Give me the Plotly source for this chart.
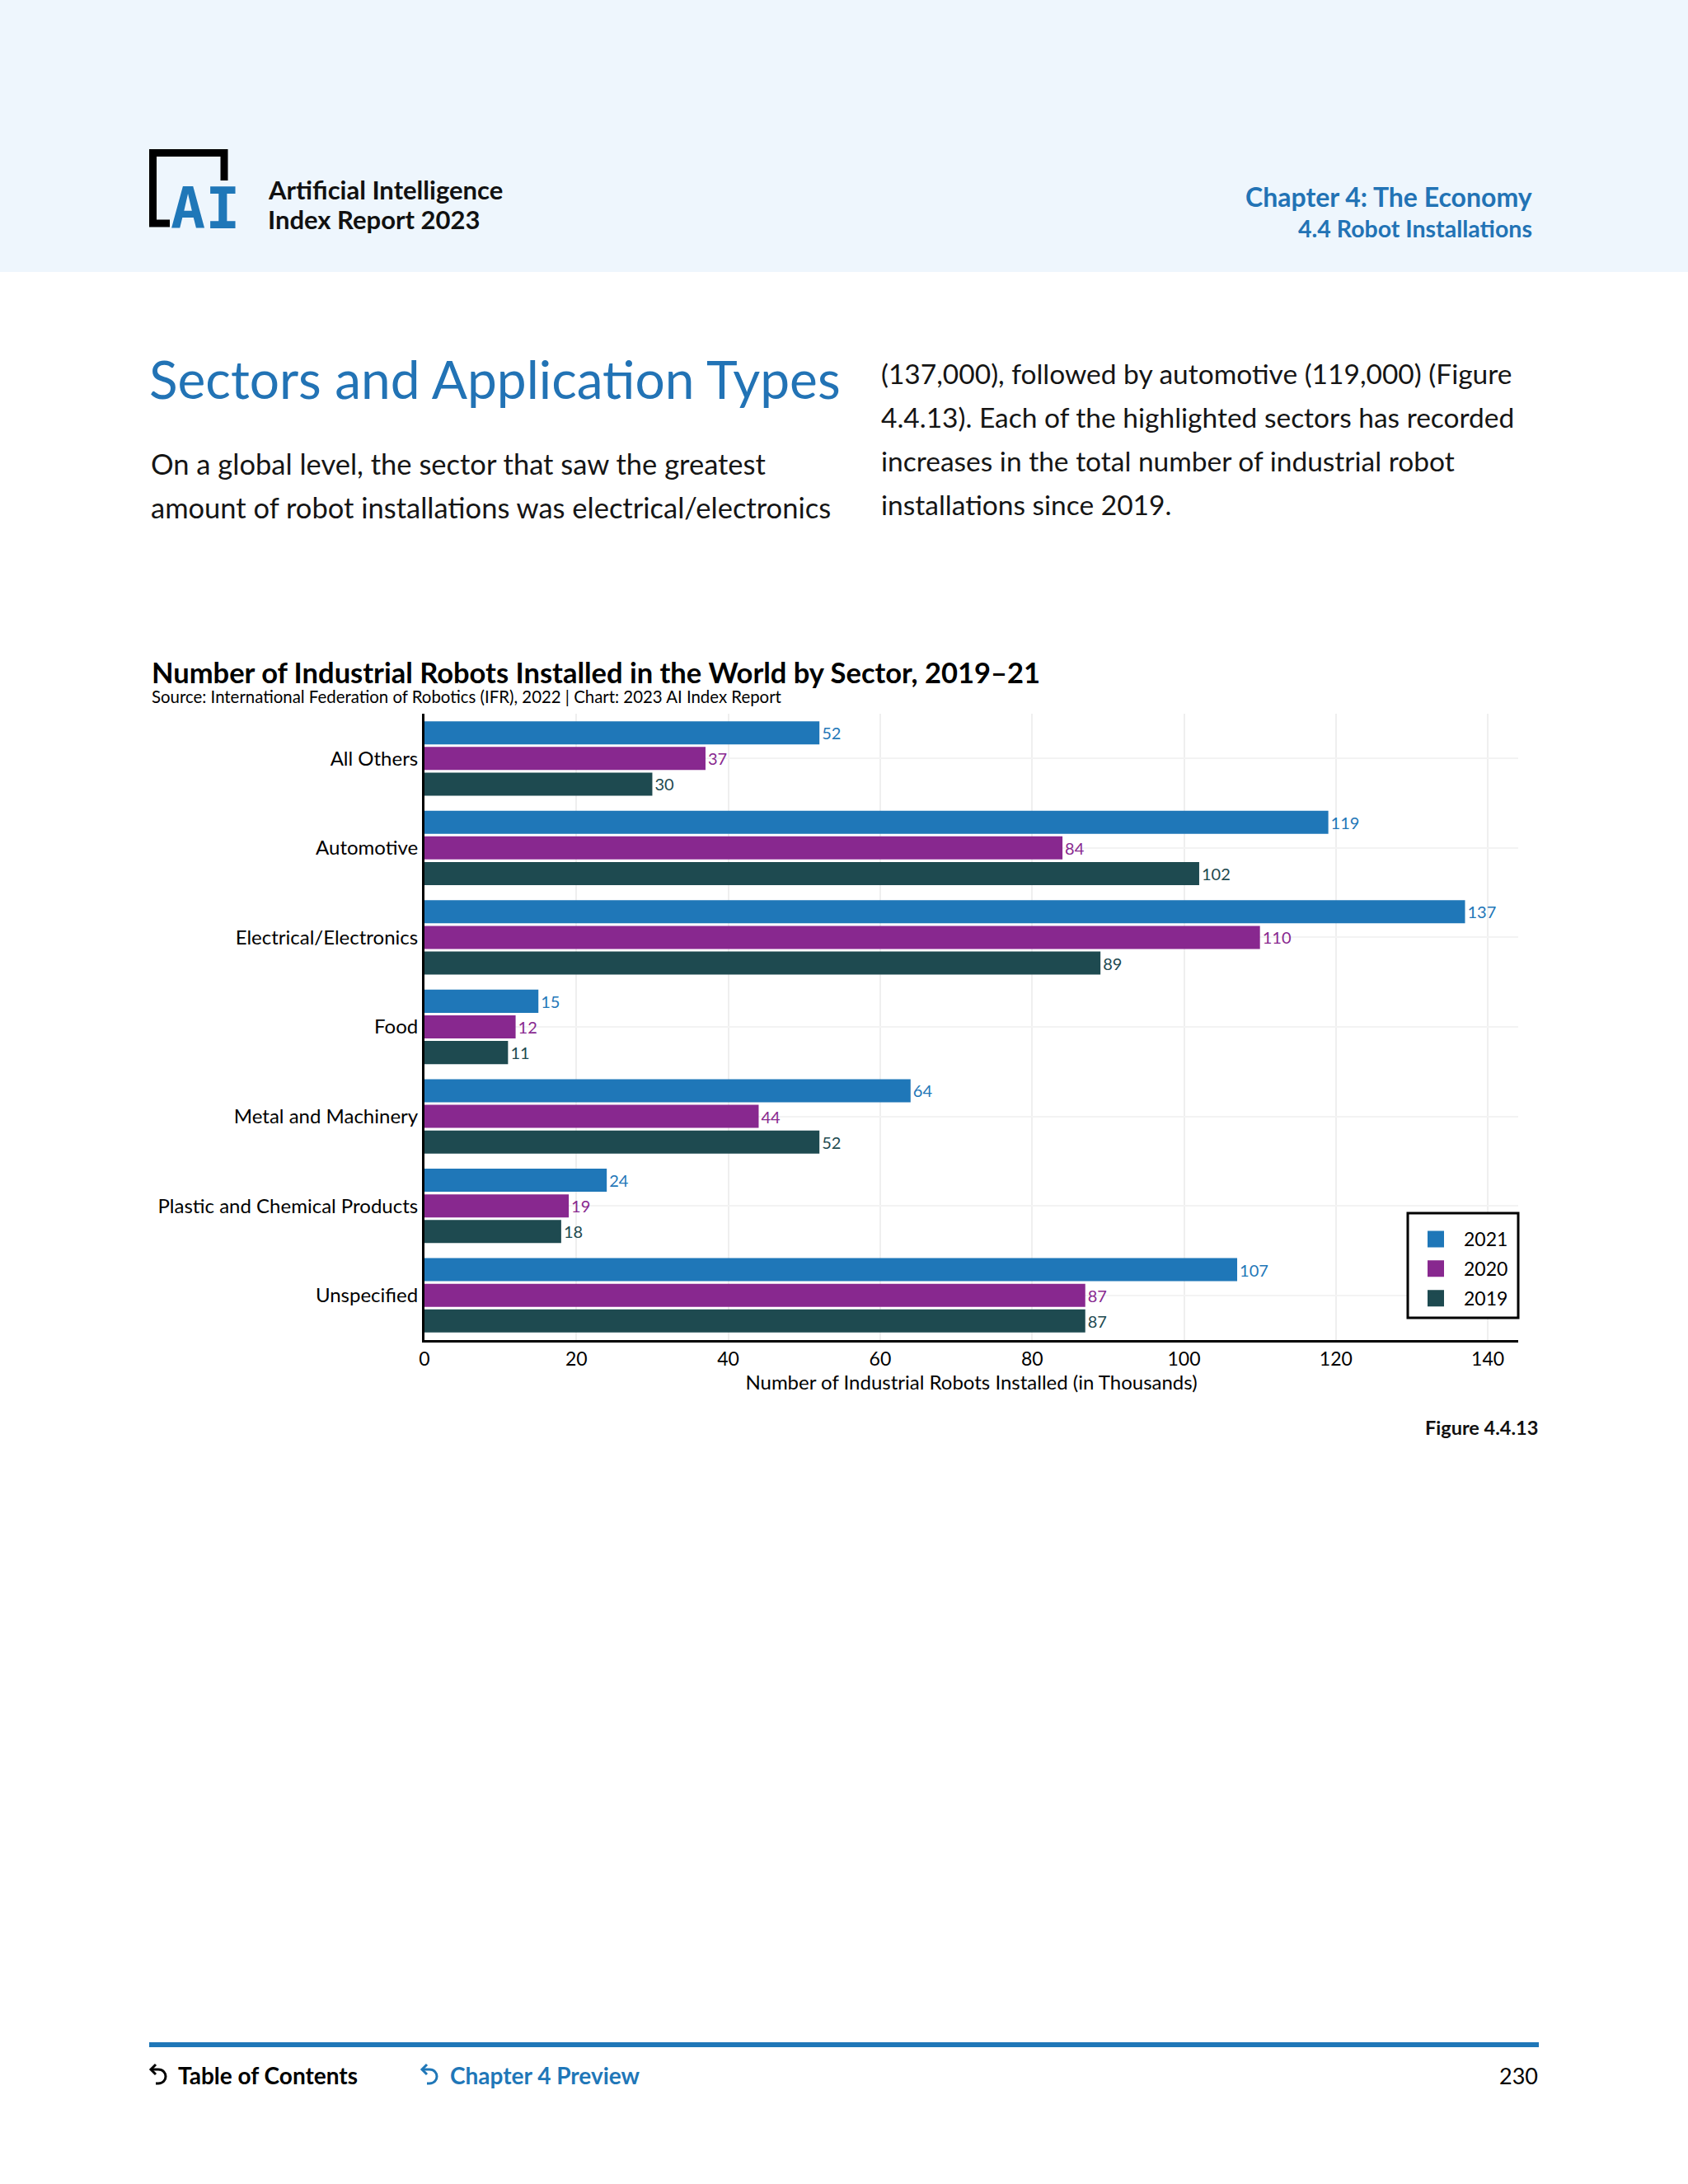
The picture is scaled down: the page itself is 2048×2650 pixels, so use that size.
import plotly.graph_objects as go

# ---------------- data ----------------
categories = ["All Others", "Automotive", "Electrical/Electronics", "Food",
              "Metal and Machinery", "Plastic and Chemical Products", "Unspecified"]
years = ["2021", "2020", "2019"]
values_2021 = [52, 119, 137, 15, 64, 24, 107]
values_2020 = [37, 84, 110, 12, 44, 19, 87]
values_2019 = [30, 102, 89, 11, 52, 18, 87]
x_ticks = [0, 20, 40, 60, 80, 100, 120, 140]

series = {"2021": values_2021, "2020": values_2020, "2019": values_2019}
colors = {"2021": "#1F77B8", "2020": "#88288F", "2019": "#1E4A50"}

# ---------------- page geometry helpers ----------------
W, H = 2048, 2650
def px(x):
    return x / W
def py(y):
    return 1 - y / H

FONT = "Lato"
BLUE = "#2273B5"
INK = "#151515"

fig = go.Figure()

for yr in years:
    fig.add_trace(go.Bar(
        y=categories, x=series[yr], name=yr, orientation="h",
        marker=dict(color=colors[yr], line=dict(width=0)),
        text=series[yr], texttemplate="%{text}", textposition="outside",
        textfont=dict(family=FONT, size=20, color=colors[yr]),
        constraintext="none", cliponaxis=False, showlegend=False,
        hoverinfo="skip",
    ))

# legend entries (larger square swatches)
for yr in years:
    fig.add_trace(go.Scatter(
        x=[None], y=[None], mode="markers", name=yr, legendgroup=yr,
        marker=dict(symbol="square", size=16, color=colors[yr],
                    line=dict(width=4, color=colors[yr])),
        showlegend=True, hoverinfo="skip",
    ))

shapes = []
# header band
shapes.append(dict(type="rect", xref="paper", yref="paper",
                   x0=0, x1=1, y0=py(330), y1=1,
                   fillcolor="#EEF6FD", line=dict(width=0), layer="below"))

def path(points):
    return "M " + " L ".join(f"{px(x):.6f},{py(y):.6f}" for x, y in points)

# logo bracket
shapes.append(dict(type="path", xref="paper", yref="paper",
                   path=path([(206, 271), (185.5, 271), (185.5, 185.5), (272, 185.5), (272, 219)]),
                   line=dict(color="#000000", width=9)))

# legend frame
shapes.append(dict(type="rect", xref="paper", yref="paper",
                   x0=px(1708), x1=px(1842), y0=py(1599), y1=py(1472),
                   fillcolor="#FFFFFF", line=dict(color="#000000", width=3), layer="above"))

# footer rule
shapes.append(dict(type="line", xref="paper", yref="paper",
                   x0=px(181), x1=px(1867), y0=py(2481), y1=py(2481),
                   line=dict(color="#1F77B8", width=6)))

def back_icon(x0, color):
    arc = (f"M {px(x0+3):.6f},{py(2511):.6f} L {px(x0+11):.6f},{py(2511):.6f} "
           f"C {px(x0+23):.6f},{py(2511):.6f} {px(x0+23):.6f},{py(2528):.6f} {px(x0+11):.6f},{py(2528):.6f} "
           f"L {px(x0+8):.6f},{py(2528):.6f}")
    shapes.append(dict(type="path", xref="paper", yref="paper", path=arc,
                       line=dict(color=color, width=3)))
    shapes.append(dict(type="path", xref="paper", yref="paper",
                       path=path([(x0+8, 2505), (x0+2, 2511), (x0+8, 2517)]),
                       line=dict(color=color, width=3)))

back_icon(181, "#000000")
back_icon(510, "#1F77B8")

annotations = []
def note(text, x, y, size, color=INK, anchor="left", bold=False, family=FONT):
    t = f"<b>{text}</b>" if bold else text
    annotations.append(dict(text=t, x=px(x), y=py(y), xref="paper", yref="paper",
                            xanchor=anchor, yanchor="middle", showarrow=False,
                            font=dict(family=family, size=size, color=color)))

# logo letters
note("AI", 205, 253, 70, color="#1F77B8", bold=True, family="DejaVu Sans Mono")
note("Artificial Intelligence", 323, 230, 31, color="#111111", bold=True)
note("Index Report 2023", 323, 266, 31, color="#111111", bold=True)
note("Chapter 4: The Economy", 1861, 238, 32, color=BLUE, anchor="right", bold=True)
note("4.4 Robot Installations", 1861, 277, 28.5, color=BLUE, anchor="right", bold=True)

note("Sectors and Application Types", 179, 460, 64, color=BLUE)
note("On a global level, the sector that saw the greatest", 181, 563, 34.5)
note("amount of robot installations was electrical/electronics", 181, 615, 34.5)
note("(137,000), followed by automotive (119,000) (Figure", 1067, 453, 33.5)
note("4.4.13). Each of the highlighted sectors has recorded", 1067, 506, 33.5)
note("increases in the total number of industrial robot", 1067, 559, 33.5)
note("installations since 2019.", 1067, 612, 33.5)

note("Number of Industrial Robots Installed in the World by Sector, 2019–21", 182, 815, 34.5,
     color="#000000", bold=True)
note("Source: International Federation of Robotics (IFR), 2022 | Chart: 2023 AI Index Report",
     182, 845, 20.4, color="#000000")

note("Figure 4.4.13", 1868, 1732, 23.5, color="#111111", anchor="right", bold=True)

note("Table of Contents", 214, 2518, 28, color="#000000", bold=True)
note("Chapter 4 Preview", 544, 2518, 28, color="#1F77B8", bold=True)
note("230", 1868, 2518, 27, color="#000000", anchor="right")

fig.update_layout(
    width=W, height=H,
    margin=dict(l=0, r=0, t=0, b=0),
    paper_bgcolor="#FFFFFF", plot_bgcolor="#FFFFFF",
    template="none",
    barmode="group", bargap=0.14, bargroupgap=0.1,
    font=dict(family=FONT, size=23, color="#000000"),
    showlegend=True,
    legend=dict(x=px(1708), xanchor="left", y=py(1482), yanchor="top",
                bgcolor="rgba(0,0,0,0)", borderwidth=0,
                font=dict(family=FONT, size=23, color="#000000"),
                itemwidth=58, traceorder="grouped", tracegroupgap=3),
    xaxis=dict(domain=[px(515), px(1842)], range=[0, 144], tickvals=x_ticks,
               showgrid=True, gridcolor="#EFEFEF", gridwidth=1.5,
               showline=True, linecolor="#000000", linewidth=3,
               zeroline=False, ticks="", automargin=False,
               tickfont=dict(family=FONT, size=23, color="#000000"),
               title=dict(text="Number of Industrial Robots Installed (in Thousands)",
                          font=dict(family=FONT, size=24, color="#000000"), standoff=8)),
    yaxis=dict(domain=[py(1626), py(866)], type="category",
               categoryorder="array", categoryarray=categories, autorange="reversed",
               showgrid=True, gridcolor="#F3F3F3", gridwidth=1.5,
               showline=True, linecolor="#000000", linewidth=3,
               zeroline=False, ticks="", automargin=False,
               tickfont=dict(family=FONT, size=24, color="#000000")),
    shapes=shapes,
    annotations=annotations,
)

fig.write_html("out.html", config={"displayModeBar": False},
               post_script="document.body.style.margin='0';")
